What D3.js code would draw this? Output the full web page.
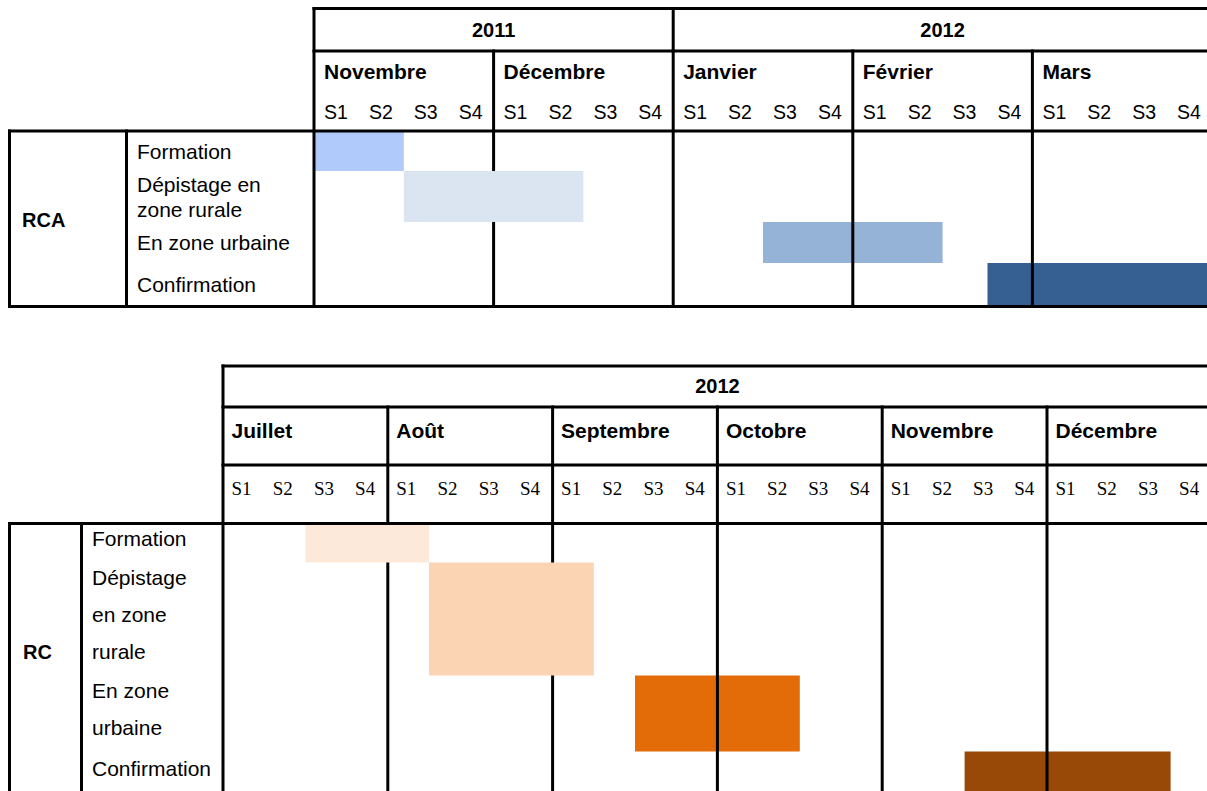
<!DOCTYPE html>
<meta charset="utf-8">
<style>
body { margin: 0; background: #fff; }
svg text { font-family: "Liberation Sans", Arial, sans-serif; fill: #000; }
.grid line { stroke: #000; stroke-width: 3; stroke-linecap: square; }
.year { font-size: 20px; font-weight: bold; text-anchor: middle; }
.month { font-size: 21px; font-weight: bold; }
.week { font-size: 19.5px; }
.week.serif { font-family: "Liberation Serif", "Times New Roman", serif; font-size: 19px; }
.task { font-size: 21px; }
.group { font-size: 20px; font-weight: bold; }
</style>
<body>
<script src="https://d3js.org/d3.v7.min.js"></script>
<script>

var weeks = ["S1", "S2", "S3", "S4"];

// RCA : nov 2011 -> mars 2012
var rcaYears = ["2011", "2012"];
var rcaYearMonths = [2, 3];
var rcaMonths = ["Novembre", "Décembre", "Janvier", "Février", "Mars"];
var rcaTasks = [["Formation"], ["Dépistage en", "zone rurale"], ["En zone urbaine"], ["Confirmation"]];
var rcaStart = [0, 2, 10, 15];   // first week, 0 = S1 of first month
var rcaEnd = [1, 5, 13, 19];     // last week (inclusive)

// RC : juillet -> décembre 2012
var rcYears = ["2012"];
var rcYearMonths = [6];
var rcMonths = ["Juillet", "Août", "Septembre", "Octobre", "Novembre", "Décembre"];
var rcTasks = [["Formation"], ["Dépistage", "en zone", "rurale"], ["En zone", "urbaine"], ["Confirmation"]];
var rcStart = [2, 5, 10, 18];
var rcEnd = [4, 8, 13, 22];

var W = 1207, H = 791;

var svg = d3.select("body").append("svg")
    .attr("width", W)
    .attr("height", H);

function drawTable(cfg) {
  var nWeeks = cfg.months.length * 4;
  var x = d3.scaleLinear()
      .domain([0, nWeeks])
      .range([cfg.chartLeft, cfg.chartLeft + nWeeks * cfg.weekW]);

  var rowY = [cfg.headerBottom].concat(Array.from(d3.cumsum(cfg.rowH), function(v) { return cfg.headerBottom + v; }));
  var bodyEnd = rowY[rowY.length - 1];

  var g = svg.append("g");

  var bars = cfg.tasks.map(function(t, i) {
    return {i: i, s: cfg.start[i], e: cfg.end[i]};
  });

  function drawBars(sel, data) {
    sel.selectAll("rect").data(data).enter().append("rect")
      .attr("x", function(d) { return x(d.s); })
      .attr("width", function(d) { return x(d.e + 1) - x(d.s); })
      .attr("y", function(d) { return rowY[d.i]; })
      .attr("height", function(d) { return rowY[d.i + 1] - rowY[d.i]; })
      .attr("fill", function(d) { return cfg.colors[d.i]; });
  }

  // later rows sit under the month lines
  drawBars(g.append("g"), bars.filter(function(d) { return d.i >= 2; }));

  var grid = g.append("g").attr("class", "grid");
  var monthIdx = d3.range(1, cfg.months.length);
  grid.selectAll("line").data(monthIdx).enter().append("line")
      .attr("x1", function(m) { return x(m * 4); })
      .attr("x2", function(m) { return x(m * 4); })
      .attr("y1", cfg.yearBottom)
      .attr("y2", cfg.closeBottom ? bodyEnd : H + 5);

  // first rows cover the month lines
  drawBars(g.append("g"), bars.filter(function(d) { return d.i < 2; }));

  var yearEdges = Array.from(d3.cumsum(cfg.yearMonths));

  var gy = g.append("g").attr("class", "grid");
  gy.selectAll("line").data(yearEdges.slice(0, -1)).enter().append("line")
      .attr("x1", function(m) { return x(m * 4); })
      .attr("x2", function(m) { return x(m * 4); })
      .attr("y1", cfg.top)
      .attr("y2", cfg.yearBottom);

  var hLines = [[cfg.chartLeft, cfg.top], [cfg.chartLeft, cfg.yearBottom], [cfg.left, cfg.headerBottom]];
  if (cfg.monthBottom) hLines.push([cfg.chartLeft, cfg.monthBottom]);
  if (cfg.closeBottom) hLines.push([cfg.left, bodyEnd]);
  var gh = g.append("g").attr("class", "grid");
  gh.selectAll("line").data(hLines).enter().append("line")
      .attr("x1", function(d) { return d[0]; })
      .attr("x2", W + 5)
      .attr("y1", function(d) { return d[1]; })
      .attr("y2", function(d) { return d[1]; });

  var vLines = [[cfg.left, cfg.headerBottom], [cfg.divider, cfg.headerBottom], [cfg.chartLeft, cfg.top]];
  var gv = g.append("g").attr("class", "grid");
  gv.selectAll("line").data(vLines).enter().append("line")
      .attr("x1", function(d) { return d[0]; })
      .attr("x2", function(d) { return d[0]; })
      .attr("y1", function(d) { return d[1]; })
      .attr("y2", cfg.closeBottom ? bodyEnd : H + 5);

  // header texts
  var yStart = [0].concat(yearEdges);
  g.append("g").selectAll("text").data(cfg.years).enter().append("text")
      .attr("class", "year")
      .attr("x", function(d, i) {
        var a = x(yStart[i] * 4), b = x(yStart[i + 1] * 4);
        return (a + b) / 2;
      })
      .attr("y", cfg.yearBase)
      .text(function(d) { return d; });

  g.append("g").selectAll("text").data(cfg.months).enter().append("text")
      .attr("class", "month")
      .attr("x", function(d, i) { return x(i * 4) + cfg.pad; })
      .attr("y", cfg.monthBase)
      .text(function(d) { return d; });

  g.append("g").selectAll("text").data(d3.range(nWeeks)).enter().append("text")
      .attr("class", cfg.serifWeeks ? "week serif" : "week")
      .attr("x", function(i) { return x(i) + cfg.pad; })
      .attr("y", cfg.weekBase)
      .text(function(i) { return weeks[i % 4]; });

  // row labels
  cfg.tasks.forEach(function(lines, i) {
    var c = (rowY[i] + rowY[i + 1]) / 2 + cfg.textShift;
    var y0 = c - (lines.length - 1) * cfg.lineH / 2;
    g.append("g").selectAll("text").data(lines).enter().append("text")
      .attr("class", "task")
      .attr("x", cfg.taskX)
      .attr("y", function(d, j) { return y0 + j * cfg.lineH + 7.5; })
      .text(function(d) { return d; });
  });

  g.append("text")
      .attr("class", "group")
      .attr("x", cfg.groupX)
      .attr("y", cfg.groupBase)
      .text(cfg.group);
}

drawTable({
  years: rcaYears, yearMonths: rcaYearMonths, months: rcaMonths, tasks: rcaTasks,
  start: rcaStart, end: rcaEnd, group: "RCA",
  colors: ["#afcafb", "#dbe5f1", "#95b3d7", "#376092"],
  left: 9.5, divider: 126.5, chartLeft: 314, weekW: 44.9,
  top: 8.5, yearBottom: 51, monthBottom: null, headerBottom: 131,
  rowH: [40, 51, 41, 43.5], closeBottom: true,
  yearBase: 36.5, monthBase: 79, weekBase: 119, pad: 10,
  taskX: 137, lineH: 25, textShift: 0,
  groupX: 22, groupBase: 226.5, serifWeeks: false
});

drawTable({
  years: rcYears, yearMonths: rcYearMonths, months: rcMonths, tasks: rcTasks,
  start: rcStart, end: rcEnd, group: "RC",
  colors: ["#fde9d9", "#fbd4b4", "#e36c09", "#984807"],
  left: 9.5, divider: 81.5, chartLeft: 223, weekW: 41.2,
  top: 366, yearBottom: 407, monthBottom: 465, headerBottom: 523.5,
  rowH: [39, 113, 76, 43], closeBottom: false,
  yearBase: 393, monthBase: 438, weekBase: 495, pad: 8.5,
  taskX: 92, lineH: 37, textShift: -4.5,
  groupX: 23, groupBase: 658.5, serifWeeks: true
});

</script>
</body>
